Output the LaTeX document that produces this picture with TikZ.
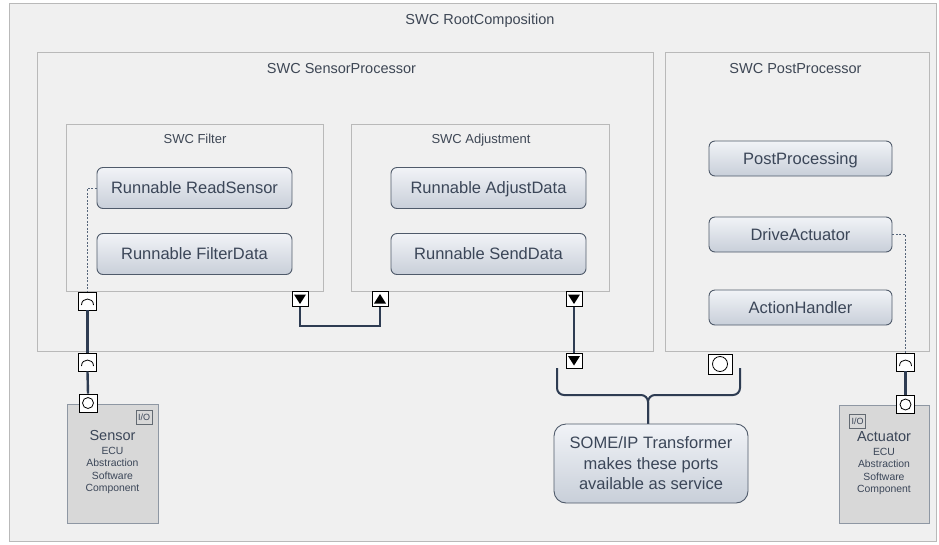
\documentclass[tikz,border=0pt]{standalone}
\usepackage{fontspec}
\setmainfont{Liberation Sans}
\definecolor{bgc}{HTML}{F0F0F0}
\definecolor{boxborder}{HTML}{B9B9B9}
\definecolor{runborder}{HTML}{4F5A6A}
\definecolor{runtop}{HTML}{F1F3F7}
\definecolor{runbot}{HTML}{C8CFD9}
\definecolor{textc}{HTML}{3B4658}
\definecolor{titlec}{HTML}{3E4755}
\definecolor{linec}{HTML}{2E3C52}
\definecolor{ecufill}{HTML}{D8D8D8}
\definecolor{ecuborder}{HTML}{8E97A3}
\definecolor{dashc}{HTML}{56657A}
\begin{document}
\begin{tikzpicture}[x=1pt,y=1pt,
  container/.style={draw=boxborder, line width=0.9pt, fill=bgc},
  title/.style={anchor=base, text=titlec, font=\fontsize{14.5}{16}\selectfont, inner sep=0pt},
  subtitle/.style={title, font=\fontsize{13}{15}\selectfont},
  runnable/.style={draw=runborder, line width=0.9pt, rounded corners=6pt, top color=runtop, bottom color=runbot,
     text=textc, font=\fontsize{16.5}{19}\selectfont, text height=11.8pt, text depth=0pt, inner sep=0pt},
  port/.style={draw=black, line width=0.8pt, fill=white, inner sep=0pt, minimum width=18pt, minimum height=18pt},
  reqport/.style={port, path picture={\draw[black, line width=0.8pt]
      ([shift={(-6pt,-4pt)}]path picture bounding box.center) .. controls ([shift={(-6pt,4pt)}]path picture bounding box.center) and ([shift={(6pt,4pt)}]path picture bounding box.center) .. ([shift={(6pt,-4pt)}]path picture bounding box.center);}},
  provport/.style={port, path picture={\draw[black, line width=0.8pt] (path picture bounding box.center) circle[radius=5.5pt];}},
  sendport/.style={port, minimum width=16pt, minimum height=15pt, path picture={\fill[black]
      ([shift={(-6pt,4.5pt)}]path picture bounding box.center) -- ([shift={(6pt,4.5pt)}]path picture bounding box.center) -- ([shift={(0pt,-5pt)}]path picture bounding box.center) -- cycle;}},
  recvport/.style={port, minimum width=16pt, minimum height=15pt, path picture={\fill[black]
      ([shift={(-6pt,-4.5pt)}]path picture bounding box.center) -- ([shift={(6pt,-4.5pt)}]path picture bounding box.center) -- ([shift={(0pt,5pt)}]path picture bounding box.center) -- cycle;}},
  conn/.style={draw=linec, line width=2.4pt},
  dotconn/.style={draw=dashc, line width=0.8pt, dash pattern=on 2pt off 1.5pt},
  ecubox/.style={draw=ecuborder, line width=1pt, fill=ecufill},
  badge/.style={draw=ecuborder!70!black, line width=0.9pt, inner sep=0pt, minimum width=16pt, minimum height=14pt, text=textc, font=\fontsize{9}{9}\selectfont},
  ecutext/.style={align=center, text=textc, inner sep=0pt, anchor=north, font=\fontsize{10.4}{12.5}\selectfont},
]
\useasboundingbox (0,0) rectangle (939,-544);
\fill[white] (0,0) rectangle (939,-544);
% root
\draw[container] (9,-3) rectangle (936,-541);
\node[title] (troot) at (480,-24.2) {SWC RootComposition};
% containers
\draw[container] (37,-52) rectangle (653,-351);
\node[title] (tsp) at (341.5,-73.2) {SWC SensorProcessor};
\draw[container] (665,-52) rectangle (929,-351);
\node[title] (tpp) at (795.5,-73.2) {SWC PostProcessor};
\draw[container] (66,-124) rectangle (323,-291);
\node[subtitle] (tf) at (195,-143.6) {SWC Filter};
\draw[container] (351,-124) rectangle (609,-291);
\node[subtitle] (ta) at (481,-143.6) {SWC Adjustment};
% runnables
\node[runnable, minimum width=195pt, minimum height=41pt] (rs) at (194.5,-188) {Runnable ReadSensor};
\node[runnable, minimum width=195pt, minimum height=41pt] (fd) at (194.5,-254) {Runnable FilterData};
\node[runnable, minimum width=195pt, minimum height=41pt] (ad) at (488.5,-188) {Runnable AdjustData};
\node[runnable, minimum width=195pt, minimum height=41pt] (sd) at (488.5,-254) {Runnable SendData};
\node[runnable, minimum width=183pt, minimum height=35pt] (pp) at (800.5,-158.5) {PostProcessing};
\node[runnable, minimum width=183pt, minimum height=35pt] (da) at (800.5,-234.5) {DriveActuator};
\node[runnable, minimum width=183pt, minimum height=35pt] (ah) at (800.5,-307.5) {ActionHandler};
% ECU boxes
\node[ecubox, minimum width=91pt, minimum height=119pt, inner sep=0pt] (sensor) at (112.5,-463.5) {};
\node[ecubox, minimum width=90pt, minimum height=118pt, inner sep=0pt] (act) at (884,-464) {};
\node[badge] (sbadge) at (144,-417.5) {I/O};
\node[badge] (abadge) at (857.5,-421.5) {I/O};
\node[ecutext] (stext) at (112.5,-430) {{\fontsize{14.5}{15}\selectfont Sensor}\\[1.5pt]ECU\\Abstraction\\Software\\Component};
\node[ecutext] (atext) at (884,-431) {{\fontsize{14.5}{15}\selectfont Actuator}\\[1.5pt]ECU\\Abstraction\\Software\\Component};
% ports
\node[reqport] (pf) at (87.5,-301) {};
\node[reqport] (pspr) at (87.5,-362) {};
\node[provport] (ps) at (88,-403) {};
\node[sendport] (pfo) at (300,-299) {};
\node[recvport] (pai) at (380,-299) {};
\node[sendport] (psd) at (574,-299) {};
\node[sendport] (psps) at (574,-360.5) {};
\node[provport, minimum width=24pt, minimum height=20pt, path picture={\draw[black, line width=0.8pt] (path picture bounding box.center) circle[radius=7.5pt];}] (ppp) at (720,-364) {};
\node[reqport] (pppr) at (905.5,-362) {};
\node[provport] (pa) at (905.5,-404.5) {};
% connectors
\draw[conn] (pf.south) -- (pspr.north);
\draw[conn] (pspr.south) -- (ps.north);
\draw[conn] (pfo.south) |- (340,-326) -| (pai.south);
\draw[conn] (psd.south) -- (psps.north);
\draw[conn] (pppr.south) -- (pa.north);
\draw[dotconn] (rs.west) -| (pf.north);
\draw[dotconn] (da.east) -| (pppr.north);
% brace and callout
\coordinate (bl) at (557,-368);
\coordinate (br) at (740,-368);
\coordinate (btip) at (648,-424);
\draw[draw=linec, line width=2pt, rounded corners=7pt] (bl) -- (557,-395) -- (648,-395) -- (btip);
\draw[draw=linec, line width=2pt, rounded corners=7pt] (br) -- (740,-395) -- (648,-395) -- (btip);
\node[draw=runborder, line width=0.9pt, rounded corners=12pt, top color=runtop, bottom color=runbot,
  minimum width=194pt, minimum height=79pt, inner sep=0pt, align=center, text=textc,
  font=\fontsize{16.5}{20.5}\selectfont] (callout) at (651,-463.5) {SOME/IP Transformer\\makes these ports\\available as service};
\end{tikzpicture}
\end{document}
